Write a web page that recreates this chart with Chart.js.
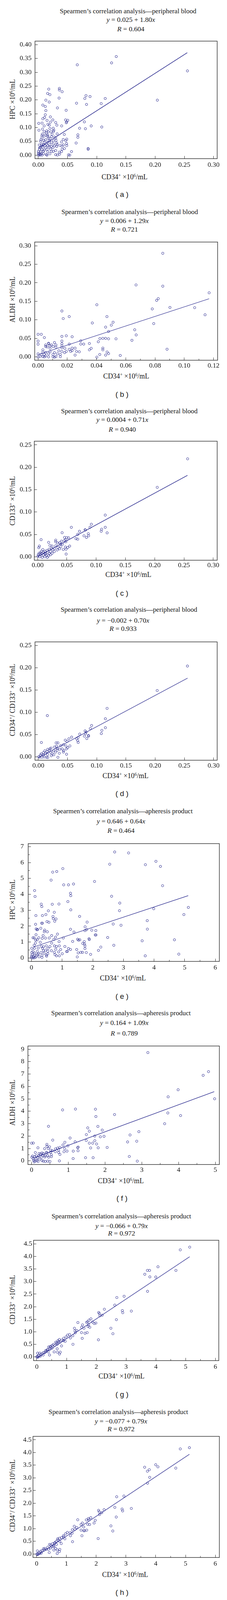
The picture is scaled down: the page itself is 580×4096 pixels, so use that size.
<!DOCTYPE html>
<html>
<head>
<meta charset="utf-8">
<script src="https://cdn.jsdelivr.net/npm/chart.js@4.4.1/dist/chart.umd.min.js"></script>
<style>
  html, body { margin: 0; padding: 0; background: #fff; }
  #page { position: relative; width: 580px; height: 4096px; overflow: hidden;
          font-family: "Liberation Serif", "Times New Roman", serif; color: #161616; }
  .t { position: absolute; white-space: nowrap; transform: translate(-50%, -50%); line-height: 1; }
  .rot { transform: translate(-50%, -50%) rotate(-90deg); }
  .lab { font-family: "Liberation Sans", Arial, sans-serif; }
  sup { font-size: 0.66em; vertical-align: 0.55em; line-height: 0; }
  canvas { position: absolute; left: 0; }
</style>
</head>
<body>
<div id="page"></div>
<script>
// values, [CD34+, y] per sample
const pbHpc = [
  [0.1334,0.357],[0.1254,0.334],[0.0667,0.327],[0.2553,0.305],[0.2038,0.199],[0.1145,0.205],[0.0816,0.2154],[0.0885,0.212],
  [0.0796,0.205],[0.0654,0.188],[0.0825,0.1835],[0.1076,0.1866],[0.0476,0.1623],[0.0788,0.1203],[0.0905,0.1057],[0.1086,0.1017],
  [0.0706,0.0973],[0.0806,0.0955],[0.0677,0.0733],[0.0677,0.0645],[0.0647,0.0437],[0.0853,0.0238],[0.0853,0.0211],[0.0568,0.0127],
  [0.0516,0.0008],[0.0538,0.0],[0.0327,0.1708],[0.0355,0.2066],[0.036,0.2416],[0.036,0.2358],[0.0407,0.2296],[0.0178,0.239],
  [0.0159,0.2233],[0.0198,0.2189],[0.0129,0.199],[0.0186,0.1922],[0.0077,0.1811],[0.0119,0.1759],[0.0129,0.1613],[0.0119,0.1463],
  [0.0077,0.1317],[0.0107,0.1361],[0.0206,0.1384],[0.0149,0.1256],[0.0248,0.1274],[0.0007,0.115],[0.0064,0.1159],[0.0206,0.1194],
  [0.0297,0.1181],[0.0466,0.1274],[0.0503,0.1261],[0.0478,0.117],[0.0486,0.1203],[0.0164,0.1115],[0.0188,0.1084],[0.0099,0.1057],
  [0.0317,0.1084],[0.0399,0.1057],[0.0072,0.0941],[0.001,0.0901],[0.0198,0.0963],[0.0255,0.0973],[0.0265,0.0901],[0.0144,0.0879],
  [0.0099,0.0844],[0.0169,0.0844],[0.0218,0.0844],[0.026,0.0857],[0.0067,0.0756],[0.0129,0.0725],[0.0161,0.0725],[0.0235,0.0756],
  [0.0322,0.0769],[0.0444,0.0747],[0.0062,0.0698],[0.0161,0.068],[0.0223,0.0667],[0.0273,0.0654],[0.0062,0.0623],[0.0169,0.061],
  [0.0297,0.0623],[0.0045,0.0556],[0.0094,0.0534],[0.0124,0.0556],[0.0186,0.0512],[0.0265,0.0521],[0.0302,0.0534],[0.0426,0.0565],
  [0.0486,0.0578],[0.0037,0.0499],[0.0099,0.0468],[0.0154,0.0459],[0.0223,0.0468],[0.0315,0.0437],[0.0397,0.0476],[0.0471,0.0521],
  [0.0017,0.0366],[0.0055,0.0392],[0.0087,0.0379],[0.0141,0.0401],[0.0198,0.0379],[0.026,0.0401],[0.0322,0.0379],[0.0372,0.0348],
  [0.0429,0.037],[0.0483,0.0415],[0.0486,0.0344],[0.0025,0.0268],[0.0069,0.029],[0.0124,0.0268],[0.0181,0.029],[0.025,0.0268],
  [0.0315,0.0313],[0.0404,0.0326],[0.002,0.0202],[0.0062,0.0211],[0.0099,0.018],[0.0149,0.0202],[0.0211,0.0211],[0.0297,0.0167],
  [0.0407,0.0211],[0.0446,0.0238],[0.0,0.0136],[0.0042,0.0113],[0.0087,0.0136],[0.0161,0.0122],[0.0223,0.0136],[0.0255,0.0131],
  [0.0359,0.0105],[0.0397,0.0127],[0.0,0.007],[0.005,0.0056],[0.0087,0.0047],[0.0136,0.0016],[0.0198,0.0047],[0.0297,0.0016],
  [0.0327,0.0003],[0.0364,0.0034],[0.0,0.0003],[0.0025,0.0],[0.0062,0.0],[0.0149,0.0],[0.0012,0.0034],[0.0037,0.0016],
  [0.0099,0.0689],[0.0136,0.08],[0.0198,0.0601],[0.0057,0.0335],[0.0112,0.0335],[0.0161,0.0335],[0.0223,0.0313],[0.0273,0.0335]
];
const pbAldh = [
  [0.0853,0.2796],[0.067,0.1942],[0.0853,0.1909],[0.117,0.173],[0.0822,0.1573],[0.0811,0.1526],[0.0402,0.1407],[0.0781,0.1295],
  [0.0902,0.1335],[0.1071,0.1329],[0.1142,0.1137],[0.0163,0.1239],[0.0213,0.1088],[0.0172,0.1035],[0.0471,0.1088],[0.0371,0.0916],
  [0.0513,0.0936],[0.0501,0.0857],[0.0791,0.0899],[0.0462,0.0804],[0.0661,0.0732],[0.0482,0.0686],[0.0671,0.0593],[0,0.061],
  [0.0022,0.061],[0.0043,0.0521],[0.0163,0.0554],[0.0193,0.057],[0.0233,0.0544],[0.0423,0.0494],[0.0443,0.0501],[0.0462,0.0501],
  [0.0482,0.0488],[0.0533,0.0488],[0.0642,0.0448],[0.0292,0.0435],[0.0412,0.0409],[0,0.0428],[0,0.0343],[0.0163,0.0428],
  [0.0213,0.0346],[0.0292,0.0346],[0.0312,0.0346],[0.0351,0.0362],[0.0052,0.0323],[0.0072,0.0356],[0.0112,0.0389],[0.0122,0.0323],
  [0.0163,0.0356],[0.0052,0.028],[0.0092,0.0323],[0.0103,0.028],[0.0122,0.0264],[0.0163,0.0297],[0.0062,0.027],[0.0082,0.0231],
  [0.0033,0.0191],[0.0163,0.0247],[0.0183,0.0231],[0.0213,0.0204],[0.0233,0.0237],[0.0253,0.0237],[0.0363,0.0231],[0.0351,0.0191],
  [0.0443,0.0237],[0.0443,0.0191],[0.0142,0.0164],[0.0163,0.0148],[0.0193,0.0148],[0.0223,0.0148],[0.0233,0.0171],[0.0263,0.0148],
  [0.0282,0.0138],[0.0182,0.0115],[0.0472,0.0132],[0.0482,0.0089],[0.0882,0.0207],[0.0033,0.0132],[0.0052,0.0115],[0.0082,0.0138],
  [0.0112,0.0115],[0,0.0082],[0.0022,0.0065],[0.0043,0.0065],[0.0072,0.0082],[0.0102,0.0065],[0.0132,0.0082],[0.0152,0.0065],
  [0.0253,0.0049],[0.0422,0.0065],[0.0462,0.0049],[0.0562,0.0039],[0,0],[0.0013,0.0016],[0.0033,0.0006],[0.0052,0.0026],
  [0.0072,0],[0.0102,0.0006],[0.0122,0.0006],[0.0152,0.0006],[0.0112,-0.0007],[0.0402,-0.0007],[0.0043,0],[0.0072,0.0369],
  [0.0082,0.0297]
];
const pbCd133 = [
  [0.2562,0.2189],[0.2043,0.1552],[0.1155,0.0932],[0.0918,0.0728],[0.0895,0.0659],[0.1155,0.0659],[0.1093,0.0617],[0.1086,0.0571],
  [0.1187,0.0535],[0.0811,0.0604],[0.0816,0.0598],[0.0715,0.0571],[0.0685,0.0502],[0.0866,0.0515],[0.0792,0.0469],[0.0871,0.0469],
  [0.0834,0.0433],[0.0655,0.0405],[0.0685,0.0394],[0.0576,0.0659],[0.0418,0.0538],[0.046,0.0433],[0.0497,0.0427],[0.0529,0.0425],
  [0.0455,0.0364],[0.0482,0.0336],[0.0406,0.035],[0.0425,0.0281],[0.0547,0.024],[0.0475,0.0218],[0.0514,0.0207],[0.0485,0.0171],
  [0.0438,0.0163],[0.0487,0.0061],[0.0309,0.0372],[0.0309,0.0336],[0.0188,0.0323],[0.0339,0.0309],[0.0381,0.0317],[0.0396,0.0281],
  [0.021,0.0254],[0.0309,0.0245],[0.0247,0.024],[0.0059,0.0383],[0.003,0.024],[0.002,0.0204],[0.0089,0.0163],[0.0287,0.0185],
  [0.0376,0.0179],[0.0334,0.0152],[0.0235,0.019],[0.0198,0.0171],[0.0161,0.0143],[0.0124,0.0124],[0.0173,0.0102],[0.0223,0.0116],
  [0.0284,0.0116],[0.0099,0.0102],[0.0062,0.0124],[0.0025,0.008],[0.0074,0.0074],[0.0124,0.008],[0.0198,0.0074],[0.0247,0.008],
  [0.0049,0.0047],[0.0099,0.0041],[0.0148,0.0033],[0.0186,0.0019],[0.0005,0.0014],[0.0037,0],[0.0079,-0.0014],[0.0124,0],
  [0.0166,-0.0014],[0.0223,0.0047],[0.0136,0.0061],[0.0012,0.0047],[0.0049,0.0088],[0.026,0.0157],[0.0346,0.0212],[0.0396,0.0226],
  [0.0482,0.0378]
];
const pbDouble = [
  [0.2553,0.2041],[0.2035,0.1491],[0.1177,0.109],[0.0154,0.0928],[0.1148,0.0857],[0.0912,0.0706],[0.089,0.0637],[0.1148,0.0656],
  [0.1088,0.0596],[0.1078,0.0524],[0.0801,0.0585],[0.0818,0.0557],[0.0709,0.0513],[0.0808,0.0522],[0.0788,0.0467],[0.0858,0.048],
  [0.086,0.0467],[0.083,0.0412],[0.0682,0.0439],[0.0657,0.0406],[0.0674,0.0365],[0.0682,0.0324],[0.057,0.0445],[0.0523,0.0406],
  [0.0461,0.0376],[0.0491,0.0348],[0.0052,0.0324],[0.0305,0.0316],[0.0335,0.0316],[0.054,0.0247],[0.0473,0.0247],[0.0431,0.0275],
  [0.0384,0.0253],[0.031,0.0242],[0.0273,0.022],[0.0216,0.0198],[0.0161,0.017],[0.0112,0.0137],[0.0367,0.0173],[0.0409,0.0179],
  [0.0478,0.0179],[0.0503,0.0206],[0.0322,0.0192],[0.0434,0.0143],[0.0429,0.011],[0.0359,0.0082],[0.0483,0.006],[0.0335,-0.0009],
  [0.0265,0.0049],[0.0211,0.0104],[0.026,0.0137],[0.0186,0.0143],[0.0149,0.0123],[0.0087,0.0096],[0.005,0.0068],[0.0223,0.0027],
  [0.0161,0.0055],[0.0124,0.0082],[0.0087,0.0041],[0.0037,0.0041],[0.0007,0.0005],[0.0025,-0.0006],[0.0062,-0.0006],[0.0099,0],
  [0.0136,-0.0006],[0.0161,-0.0014],[0.0297,0.011],[0.0322,0.0151],[0.0235,0.0068],[0.0198,0.0179]
];
const apHpc = [
  [2.715,6.667],[3.169,6.606],[4.062,6.079],[2.554,5.898],[3.718,5.867],[4.209,5.76],[1.023,5.62],[0.824,5.438],
  [0.692,5.4],[0.64,4.896],[2.058,4.812],[1.051,4.598],[1.207,4.598],[1.372,4.652],[4.279,4.545],[0.102,4.24],
  [0.116,3.866],[2.615,3.881],[1.273,4.072],[1.282,3.919],[1.188,3.545],[2.882,3.453],[0.318,3.385],[0.337,3.232],
  [0.678,3.377],[0.896,3.392],[1.282,3.026],[0.551,2.965],[3.99,3.095],[5.12,3.179],[2.872,2.973],[0.744,2.873],
  [0.144,2.667],[0.357,2.667],[0.47,2.728],[0.702,2.606],[0.711,2.476],[0.801,2.453],[0.758,2.308],[1.571,2.614],
  [4.974,2.728],[0.507,2.285],[0.568,2.247],[0.332,2.186],[0.357,2.186],[0.134,2.118],[1.816,2.255],[3.778,2.347],
  [2.667,2.133],[2.922,2.057],[1.75,1.958],[0.304,1.866],[0.153,1.827],[0.181,1.774],[0.2,1.79],[0.432,1.751],
  [1.273,1.805],[1.802,1.782],[3.783,1.812],[1.745,1.721],[1.968,1.744],[2.1,1.721],[0.418,1.645],[0.517,1.645],
  [1.387,1.629],[0.148,1.461],[0.38,1.408],[0.659,1.408],[0.848,1.5],[2.081,1.446],[2.105,1.446],[0.049,1.27],
  [0.087,1.263],[0.238,1.27],[0.351,1.232],[0.456,1.248],[0.579,1.255],[0.787,1.308],[1.038,1.255],[2.487,1.286],
  [0.186,1.14],[0.134,1.125],[0.73,1.163],[1.505,1.179],[1.576,1.14],[1.534,1.117],[1.878,1.209],[1.887,1.156],
  [1.344,1.041],[0.9,1.026],[1.722,1.026],[3.612,1.079],[4.666,1.14],[0.285,0.988],[0.13,0.934],[0.659,0.934],
  [1.675,0.911],[1.732,0.873],[1.745,0.759],[0.087,0.797],[0.484,0.759],[0.749,0.759],[0.909,0.759],[1.089,0.721],
  [2.687,0.797],[2.262,0.683],[0.318,0.736],[0.389,0.698],[0.602,0.721],[0.815,0.721],[0.011,0.606],[0.096,0.606],
  [0.219,0.622],[0.357,0.606],[0.541,0.606],[1.207,0.591],[1.745,0.591],[1.273,0.53],[0.952,0.53],[1.476,0.53],
  [2.186,0.476],[0.049,0.415],[0.191,0.415],[0.389,0.453],[0.46,0.492],[0.532,0.415],[0.65,0.453],[0.792,0.545],
  [1.146,0.4],[1.175,0.415],[1.666,0.354],[1.789,0.339],[1.61,0.354],[1.524,0.316],[0.011,0.339],[0.106,0.301],
  [0.224,0.263],[0.309,0.339],[0.413,0.301],[0.532,0.263],[0.744,0.354],[0.886,0.377],[1.004,0.263],[0.021,0.21],
  [0.096,0.186],[0.2,0.21],[0.342,0.164],[0.484,0.186],[0.768,0.21],[1.93,0.225],[4.808,0.24],[0.001,0.11],
  [0.068,0.072],[0.153,0.11],[0.248,0.072],[0.342,0.034],[0.494,0.11],[0.815,0.133],[0.909,0.133],[3.713,0.133],
  [1.495,0.064],[0,0.011],[0.035,0],[0.082,0],[0.13,0.034]
];
const apAldh = [
  [3.165,8.733],[4.815,7.195],[4.669,6.899],[3.988,5.736],[3.716,5.165],[4.981,5.007],[0.844,4.109],[1.195,4.178],
  [1.739,4.168],[1.751,3.577],[2.258,3.735],[3.708,3.863],[4.055,3.656],[0.461,2.79],[3.621,2.997],[1.805,2.78],
  [1.529,2.661],[1.572,2.395],[1.923,2.484],[2.92,2.356],[1.491,2.119],[1.72,2.001],[1.972,1.981],[1.872,1.942],
  [2.68,2.09],[1.048,1.844],[0.576,1.676],[1.488,1.647],[1.722,1.627],[2.613,1.528],[2.862,1.587],[1.186,1.538],
  [0.906,1.499],[0,1.43],[0.048,1.44],[1.572,1.43],[1.663,1.43],[1.769,1.361],[0.418,1.331],[0.855,1.282],
  [0.989,1.213],[0.489,1.134],[0.418,1.183],[1.269,1.114],[1.254,1.065],[0.174,1.055],[1.608,1.045],[1.813,1.055],
  [2.057,1.084],[0.355,0.986],[0.453,1.006],[0.709,1.035],[0.772,1.084],[0.902,0.986],[0.65,0.966],[0.52,0.868],
  [0.567,0.819],[0.646,0.74],[0.737,0.868],[0.737,0.691],[0.883,0.74],[0.965,0.789],[1.135,0.789],[1.265,0.819],
  [0.772,0.523],[0.103,0.671],[0.205,0.592],[0.284,0.641],[0.402,0.691],[0.422,0.641],[0.513,0.691],[0.245,0.563],
  [0.323,0.592],[0.029,0.395],[0.126,0.415],[0.197,0.395],[0.304,0.445],[0.371,0.415],[0.442,0.415],[0.54,0.494],
  [0.54,0.346],[0.008,0.297],[0.087,0.346],[0.174,0.247],[0.276,0.297],[0.363,0.316],[0.465,0.297],[2.66,0.356],
  [0.044,0.178],[0.126,0.149],[0.225,0.149],[1.131,0.188],[1.469,0.257],[1.675,0.257],[0.055,0.05],[0.146,0.02],
  [0.284,0.02],[0.095,-0.019],[0.071,-0.078],[0.178,-0.048],[0.323,-0.019],[0.375,-0.048],[0.442,-0.019],[0.5,-0.048],
  [0.757,0],[2.877,-0.019]
];
const apCd133 = [
  [5.136,4.372],[4.82,4.263],[4.071,3.589],[3.716,3.445],[3.788,3.445],[4.674,3.445],[3.628,3.291],[3.798,3.187],
  [3.997,3.182],[3.72,2.612],[2.689,2.364],[2.933,2.414],[2.62,2.062],[2.27,1.898],[2.874,1.844],[2.888,1.76],
  [3.176,1.824],[2.081,1.769],[2.1,1.725],[2.12,1.636],[2.198,1.661],[2.674,1.482],[1.819,1.516],[1.751,1.462],
  [1.712,1.397],[1.673,1.378],[1.381,1.368],[1.877,1.387],[1.926,1.328],[1.984,1.348],[1.536,1.274],[1.507,1.179],
  [1.585,1.14],[1.722,1.214],[1.78,1.179],[1.741,1.279],[2.489,1.14],[1.264,1.14],[1.283,1.031],[1.342,1.051],
  [1.502,0.966],[1.619,0.942],[1.692,0.966],[2.557,0.922],[1.293,0.956],[1.526,0.738],[2.071,0.679],[1.215,0.5],
  [1.21,0.842],[1.099,0.892],[1.031,0.867],[1.128,0.753],[0.982,0.793],[0.904,0.743],[0.895,0.644],[0.953,0.619],
  [0.846,0.669],[0.831,0.436],[0.758,0.694],[0.71,0.644],[0.778,0.585],[0.637,0.585],[0.69,0.505],[0.603,0.456],
  [0.685,0.322],[0.69,0.188],[0.788,0.188],[0.763,0.114],[0.583,0.198],[0.515,0.347],[0.467,0.421],[0.399,0.396],
  [0.443,0.307],[0.515,0.446],[0.428,0.074],[0.37,0.297],[0.384,0.198],[0.321,0.223],[0.272,0.173],[0.214,0.074],
  [0.175,0.124],[0.136,0.089],[0.101,0.149],[0.028,0.149],[0.067,0.059],[0.018,0.024],[0,0],[0.038,-0.01],
  [0.116,0.024],[0.223,0.173],[0.296,0.248],[0.345,0.272],[0.443,0.396],[0.554,0.495],[0.66,0.545],[0.733,0.604]
];
const apDouble = [
  [5.13,4.19],[4.824,4.141],[4.0,3.518],[4.073,3.435],[3.627,3.42],[4.673,3.385],[3.72,3.263],[3.784,3.322],
  [3.797,3.022],[3.724,2.791],[2.689,2.256],[2.932,2.285],[2.626,1.839],[3.18,1.795],[2.869,1.771],[2.888,1.697],
  [2.266,1.746],[2.081,1.722],[2.101,1.663],[2.188,1.629],[2.115,1.555],[2.674,1.457],[1.819,1.432],[1.741,1.398],
  [1.756,1.344],[1.669,1.344],[1.381,1.349],[1.969,1.329],[1.93,1.221],[1.536,1.221],[1.493,1.162],[1.716,1.172],
  [1.779,1.162],[2.495,1.108],[1.264,1.094],[1.288,0.976],[1.347,1.04],[1.201,0.956],[1.493,0.941],[1.581,1.064],
  [1.581,0.917],[1.614,0.917],[1.682,0.941],[2.558,0.907],[1.522,0.72],[2.066,0.608],[1.206,0.485],[1.191,0.819],
  [1.128,0.843],[1.031,0.853],[1.138,0.72],[0.967,0.794],[0.899,0.72],[0.909,0.672],[0.948,0.598],[0.837,0.647],
  [0.764,0.622],[0.706,0.598],[0.716,0.549],[0.779,0.5],[0.657,0.5],[0.666,0.377],[0.827,0.411],[0.598,0.426],
  [0.53,0.401],[0.433,0.377],[0.579,0.294],[0.642,0.22],[0.691,0.157],[0.779,0.181],[0.764,0.098],[0.691,0.019],
  [0.579,0.157],[0.472,0.24],[0.423,0.058],[0.375,0.269],[0.399,0.19],[0.326,0.181],[0.253,0.157],[0.18,0.132],
  [0.131,0.107],[0.025,0.122],[0.083,0.058],[0.156,0.034],[0.035,0.009],[0,-0.005],[0.044,-0.015],[0.107,0.024],
  [0.229,0.206],[0.277,0.22],[0.472,0.353],[0.511,0.289],[0.569,0.328],[0.618,0.451]
];

// regression lines as drawn (end points)
const fitA = [[0, 0.025], [0.255, 0.371]];
const fitB = [[0, 0.006], [0.117, 0.157]];
const fitC = [[0, 0.0004], [0.256, 0.182]];
const fitD = [[0, -0.002], [0.2555, 0.177]];
const fitE = [[0.07, 0.69], [5.115, 3.92]];
const fitF = [[0.05, 0.22], [4.97, 5.58]];
const fitG = [[0.01, -0.058], [5.135, 3.99]];
const fitH = [[0.01, -0.069], [5.13, 3.93]];

// ticks
const tick030 = [0, 0.05, 0.10, 0.15, 0.20, 0.25, 0.30];
const tick012 = [0, 0.02, 0.04, 0.06, 0.08, 0.10, 0.12];
const minor012 = [0.01, 0.03, 0.05, 0.07, 0.09, 0.11];
const tick040 = [0, 0.05, 0.10, 0.15, 0.20, 0.25, 0.30, 0.35, 0.40];
const tick025 = [0, 0.05, 0.10, 0.15, 0.20, 0.25];
const tick6 = [0, 1, 2, 3, 4, 5, 6];
const tick5 = [0, 1, 2, 3, 4, 5];
const minor6 = [0.5, 1.5, 2.5, 3.5, 4.5, 5.5];
const minor5 = [0.5, 1.5, 2.5, 3.5, 4.5];
const tick7 = [0, 1, 2, 3, 4, 5, 6, 7];
const minor7 = [0.5, 1.5, 2.5, 3.5, 4.5, 5.5, 6.5];
const tick9 = [0, 1, 2, 3, 4, 5, 6, 7, 8, 9];
const minor9 = [0.5, 1.5, 2.5, 3.5, 4.5, 5.5, 6.5, 7.5, 8.5];
const tick45 = [0, 0.5, 1.0, 1.5, 2.0, 2.5, 3.0, 3.5, 4.0, 4.5];

const K = 0.966;
const NAVY = '#25258c';
const SERIF = '"Liberation Serif", "Times New Roman", serif';
const PB = 'Spearmen\u2019s correlation analysis\u2014peripheral blood';
const AP = 'Spearmen\u2019s correlation analysis\u2014apheresis product';
const X_TITLE = 'CD34<sup>+</sup> \u00d710<sup>6</sup>/mL';
const HPC = 'HPC \u00d710<sup>6</sup>/mL';
const ALDH = 'ALDH \u00d710<sup>6</sup>/mL';
const CD133 = 'CD133<sup>+</sup> \u00d710<sup>6</sup>/mL';
const DBL = 'CD34<sup>+</sup>/ CD133<sup>+</sup> \u00d710<sup>6</sup>/mL';

// layout in reference pixels (600 wide)
const panels = [
  { id: 'a', pts: pbHpc, fit: fitA, title: PB, eq: '= 0.025 + 1.80', r: '0.604', yTitle: HPC,
    box: [92.6, 95.7, 574, 420.9], xr: [-0.0057, 0.3062], yr: [-0.013, 0.4128], xt: tick030, yt: tick040, xm: [], ym: [], xd: 2, yd: 2,
    ty: [29.7, 52.4, 77.8], tcx: 338.7, ecx: 346, xlo: 16.5, ylg: 9.2, xtx: 329.5, xty: 470, yty: 262.7, ly: 515.6 },
  { id: 'b', pts: pbAldh, fit: fitB, title: PB, eq: '= 0.006 + 1.29', r: '0.721', yTitle: ALDH,
    box: [91.8, 628, 575.2, 955], xr: [-0.0023, 0.1228], yr: [-0.009, 0.31], xt: tick012, yt: tick030, xm: minor012, ym: [], xd: 2, yd: 2,
    ty: [562.1, 585.8, 608.4], tcx: 343, ecx: 329, xlo: 14.5, ylg: 9.5, xtx: 333.8, xty: 998.2, yty: 794.4, ly: 1045.6 },
  { id: 'c', pts: pbCd133, fit: fitC, title: PB, eq: '= 0.0004 + 0.71', r: '0.940', yTitle: CD133,
    box: [90.7, 1158, 574, 1484.3], xr: [-0.0057, 0.3067], yr: [-0.0077, 0.2583], xt: tick030, yt: tick025, xm: [], ym: [], xd: 2, yd: 2,
    ty: [1090.4, 1112.4, 1138.4], tcx: 342, ecx: 323.5, xlo: 13.5, ylg: 7.3, xtx: 339.5, xty: 1523.8, yty: 1327, ly: 1572.2 },
  { id: 'd', pts: pbDouble, fit: fitD, title: PB, eq: '= \u22120.002 + 0.70', r: '0.933', yTitle: DBL,
    box: [92.6, 1688, 574, 2015], xr: [-0.0057, 0.3062], yr: [-0.0075, 0.2583], xt: tick030, yt: tick025, xm: [], ym: [], xd: 2, yd: 2,
    ty: [1616.4, 1644.8, 1667.1], tcx: 341, ecx: 325.5, xlo: 14.5, ylg: 9.2, xtx: 332, xty: 2056.5, yty: 1855.4, ly: 2103.9 },
  { id: 'e', pts: apHpc, fit: fitE, title: AP, eq: '= 0.646 + 0.64', r: '0.464', yTitle: HPC,
    box: [74.6, 2220.4, 579.8, 2548.7], xr: [-0.107, 6.132], yr: [-0.219, 7.194], xt: tick6, yt: tick7, xm: minor6, ym: minor7, xd: 0, yd: 0,
    ty: [2149.7, 2176.8, 2202.2], tcx: 325, ecx: 320, xlo: 16.9, ylg: 11.6, xtx: 325, xty: 2593.3, yty: 2383.7, ly: 2640.6 },
  { id: 'f', pts: apAldh, fit: fitF, title: AP, eq: '= 0.164 + 1.09', r: '0.789', yTitle: ALDH,
    box: [73.9, 2758.2, 579.8, 3086.1], xr: [-0.098, 5.11], yr: [-0.294, 9.265], xt: tick5, yt: tick9, xm: minor5, ym: minor9, xd: 0, yd: 0,
    ty: [2685.5, 2711.5, 2739.6], tcx: 320, ecx: 328.5, xlo: 15.2, ylg: 9.6, xtx: 319.6, xty: 3130, yty: 2922, ly: 3175.7 },
  { id: 'g', pts: apCd133, fit: fitG, title: AP, eq: '= \u22120.066 + 0.79', r: '0.972', yTitle: CD133,
    box: [88.8, 3279, 578.3, 3606], xr: [-0.108, 6.114], yr: [-0.15, 4.645], xt: tick6, yt: tick45, xm: minor6, ym: [], xd: 0, yd: 1,
    ty: [3223.9, 3249.3, 3269.6], tcx: 321, ecx: 321.5, xlo: 16.7, ylg: 3.8, xtx: 321.5, xty: 3648.2, yty: 3443.7, ly: 3695.6 },
  { id: 'h', pts: apDouble, fit: fitH, title: AP, eq: '= \u22120.077 + 0.79', r: '0.972', yTitle: DBL,
    box: [87.3, 3799, 579.8, 4127.9], xr: [-0.121, 6.136], yr: [-0.138, 4.636], xt: tick6, yt: tick45, xm: minor6, ym: [], xd: 0, yd: 1,
    ty: [3742.5, 3767.2, 3788.1], tcx: 313, ecx: 320, xlo: 16.9, ylg: 3.8, xtx: 331, xty: 4173.5, yty: 3964, ly: 4220.9 }
];

const page = document.getElementById('page');

function addText(html, cx, cy, size, cls) {
  const d = document.createElement('div');
  d.className = 't' + (cls ? ' ' + cls : '');
  d.style.left = (cx * K) + 'px';
  d.style.top = (cy * K) + 'px';
  d.style.fontSize = (size * K) + 'px';
  d.innerHTML = html;
  page.appendChild(d);
}

const framePlugin = {
  id: 'frame',
  beforeDatasetsDraw(chart) {
    const a = chart.chartArea, ctx = chart.ctx;
    ctx.save();
    ctx.strokeStyle = '#2a2a2a';
    ctx.lineWidth = 1.4;
    ctx.strokeRect(a.left, a.top, a.right - a.left, a.bottom - a.top);
    ctx.restore();
  }
};

// short inward ticks between the labelled ones
const minorPlugin = {
  id: 'minor',
  afterDraw(chart, args, opts) {
    const a = chart.chartArea, ctx = chart.ctx;
    const sx = chart.scales.x, sy = chart.scales.y;
    ctx.save();
    ctx.strokeStyle = '#333';
    ctx.lineWidth = 1;
    ctx.beginPath();
    (opts.x || []).forEach(v => {
      const px = sx.getPixelForValue(v);
      ctx.moveTo(px, a.bottom); ctx.lineTo(px, a.bottom - 4);
    });
    (opts.y || []).forEach(v => {
      const py = sy.getPixelForValue(v);
      ctx.moveTo(a.left, py); ctx.lineTo(a.left + 4, py);
    });
    ctx.stroke();
    ctx.restore();
  }
};

const TL = -7;           // negative tick length = ticks point into the plot
const FS = 18 * K;       // tick label size

panels.forEach(p => {
  const [L, T, R, B] = p.box;

  addText(p.title, p.tcx, p.ty[0], 17.8);
  addText('<i>y</i> ' + p.eq + '<i>x</i>', p.ecx, p.ty[1], 18.3);
  addText('<i>R</i> = ' + p.r, p.ecx, p.ty[2], 18.3);
  addText(X_TITLE, p.xtx, p.xty, 18.5);
  addText(p.yTitle, 34.4, p.yty, 18.5, 'rot');
  addText('( ' + p.id + ' )', 322.6, p.ly, 19.5, 'lab');

  const cv = document.createElement('canvas');
  const h = Math.round((B - T + 50) * K);
  cv.width = 580;
  cv.height = h;
  cv.style.top = ((T - 14) * K) + 'px';
  page.appendChild(cv);

  new Chart(cv, {
    type: 'scatter',
    data: {
      datasets: [
        {
          data: p.fit.map(([x, y]) => ({ x, y })),
          showLine: true,
          borderColor: NAVY,
          borderWidth: 1.3,
          pointRadius: 0,
          fill: false
        },
        {
          data: p.pts.map(([x, y]) => ({ x, y })),
          pointRadius: 2.9,
          pointBorderWidth: 1,
          borderColor: NAVY,
          backgroundColor: 'rgba(0,0,0,0)'
        }
      ]
    },
    options: {
      responsive: false,
      animation: false,
      events: [],
      layout: { padding: { left: 0, top: 14 * K, right: (600 - R) * K, bottom: 0 } },
      plugins: {
        legend: { display: false },
        tooltip: { enabled: false },
        minor: { x: p.xm, y: p.ym }
      },
      scales: {
        x: {
          type: 'linear',
          min: p.xr[0], max: p.xr[1],
          afterFit: s => { s.height = 36 * K; },
          afterBuildTicks: s => { s.ticks = p.xt.map(v => ({ value: v })); },
          ticks: {
            callback: v => Number(v).toFixed(p.xd),
            font: { family: SERIF, size: FS },
            color: '#161616',
            padding: p.xlo * K - TL - 0.6 * FS,
            maxRotation: 0, autoSkip: false
          },
          grid: { drawOnChartArea: false, tickLength: TL, color: '#333', lineWidth: 1 },
          border: { display: false }
        },
        y: {
          type: 'linear',
          min: p.yr[0], max: p.yr[1],
          afterFit: s => { s.width = L * K; },
          afterBuildTicks: s => { s.ticks = p.yt.map(v => ({ value: v })); },
          ticks: {
            callback: v => Number(v).toFixed(p.yd),
            font: { family: SERIF, size: FS },
            color: '#161616',
            padding: p.ylg * K - TL,
            autoSkip: false
          },
          grid: { drawOnChartArea: false, tickLength: TL, color: '#333', lineWidth: 1 },
          border: { display: false }
        }
      }
    },
    plugins: [framePlugin, minorPlugin]
  });
});
</script>
</body>
</html>
